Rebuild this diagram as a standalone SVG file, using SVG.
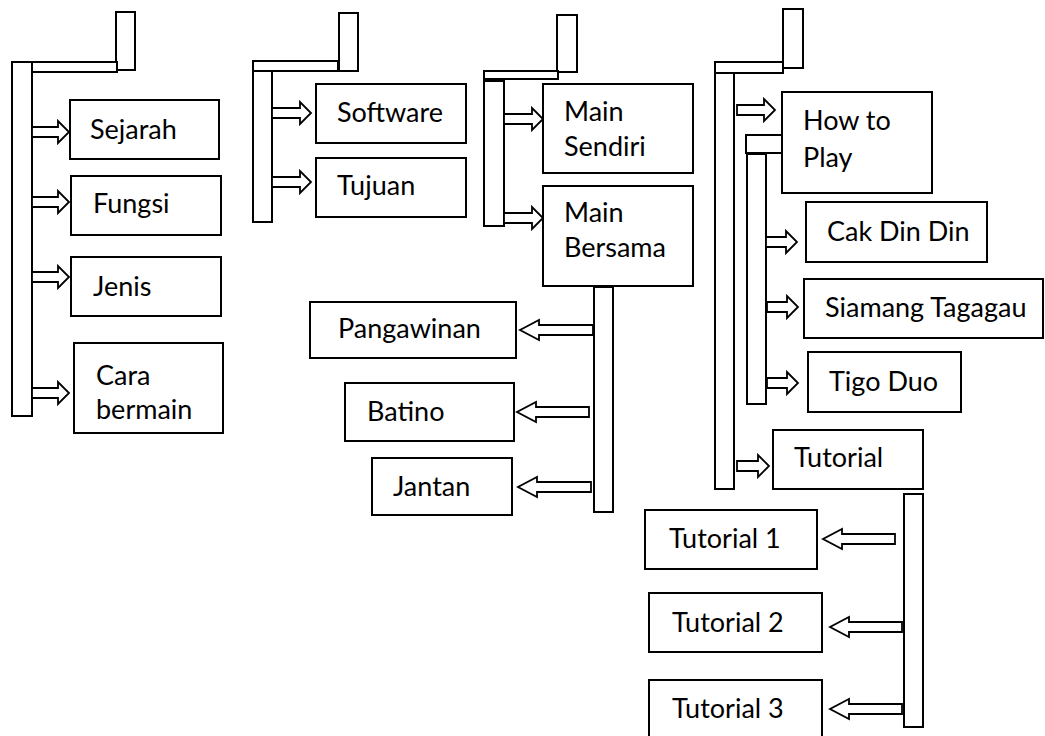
<svg xmlns="http://www.w3.org/2000/svg" width="1045" height="736" viewBox="0 0 1045 736">
<style>
rect, path { fill: #fff; stroke: #000; stroke-width: 2; }
.bar { stroke-width: 2; }
.arrow { stroke-width: 1.8; stroke-linejoin: miter; }
text { font-family: Lato, "Liberation Sans", sans-serif; font-size: 27px; fill: #000; }
</style>
<rect x="0" y="0" width="1045" height="736" style="fill:#fff;stroke:none"/>
<g id="connectors">
  <!-- column 1 -->
  <rect class="bar" x="116" y="12" width="19" height="58"/>
  <rect class="bar" x="32" y="62" width="85" height="10"/>
  <rect class="bar" x="12" y="62" width="20" height="354"/>
  <path class="arrow" d="M32 127 H58 V121 L69 132 L58 143 V137 H32 Z"/>
  <path class="arrow" d="M32 197 H58 V191 L69 202 L58 213 V207 H32 Z"/>
  <path class="arrow" d="M32 272 H58 V266 L69 277 L58 288 V282 H32 Z"/>
  <path class="arrow" d="M32 388 H58 V382 L69 393 L58 404 V398 H32 Z"/>
  <!-- column 2 -->
  <rect class="bar" x="339" y="13" width="19" height="58"/>
  <rect class="bar" x="253" y="61" width="85" height="10"/>
  <rect class="bar" x="253" y="71" width="19" height="151"/>
  <path class="arrow" d="M272 108 H300 V102 L311 113 L300 124 V118 H272 Z"/>
  <path class="arrow" d="M272 177 H300 V171 L311 182 L300 193 V187 H272 Z"/>
  <!-- column 3 -->
  <rect class="bar" x="557" y="15" width="20" height="57"/>
  <rect class="bar" x="484" y="71" width="74" height="8"/>
  <rect class="bar" x="484" y="81" width="20" height="145"/>
  <path class="arrow" d="M504 114 H532 V108 L543 119 L532 130 V124 H504 Z"/>
  <path class="arrow" d="M504 213 H532 V207 L543 218 L532 229 V223 H504 Z"/>
  <rect class="bar" x="594" y="287" width="19" height="225"/>
  <path class="arrow" d="M593 325 H539 V320 L520 330 L539 340 V335 H593 Z"/>
  <path class="arrow" d="M589 407 H536 V402 L517 412 L536 422 V417 H589 Z"/>
  <path class="arrow" d="M591 482 H537 V477 L518 487 L537 497 V492 H591 Z"/>
  <!-- column 4 -->
  <rect class="bar" x="783" y="9" width="20" height="59"/>
  <rect class="bar" x="715" y="62" width="68" height="11"/>
  <rect class="bar" x="715" y="73" width="19" height="416"/>
  <path class="arrow" d="M737 105 H764 V99 L775 110 L764 121 V115 H737 Z"/>
  <rect class="bar" x="746" y="135" width="36" height="18"/>
  <rect class="bar" x="747" y="154" width="19" height="250"/>
  <path class="arrow" d="M766 237 H786 V231 L797 242 L786 253 V247 H766 Z"/>
  <path class="arrow" d="M767 302 H787 V296 L798 307 L787 318 V312 H767 Z"/>
  <path class="arrow" d="M767 378 H787 V372 L798 383 L787 394 V388 H767 Z"/>
  <path class="arrow" d="M737 461 H758 V455 L769 466 L758 477 V471 H737 Z"/>
  <rect class="bar" x="904" y="494" width="19" height="233"/>
  <path class="arrow" d="M895 534 H842 V529 L823 539 L842 549 V544 H895 Z"/>
  <path class="arrow" d="M902 622 H849 V617 L830 627 L849 637 V632 H902 Z"/>
  <path class="arrow" d="M902 704 H849 V699 L830 709 L849 719 V714 H902 Z"/>
</g>
<g id="node-sejarah"><rect x="70" y="100" width="149" height="59"/><text x="90" y="139">Sejarah</text></g>
<g id="node-fungsi"><rect x="71" y="176" width="150" height="59"/><text x="93" y="213">Fungsi</text></g>
<g id="node-jenis"><rect x="71" y="257" width="150" height="59"/><text x="93" y="296">Jenis</text></g>
<g id="node-cara-bermain"><rect x="74" y="343" width="149" height="90"/><text x="96" y="385">Cara</text><text x="96" y="419">bermain</text></g>
<g id="node-software"><rect x="316" y="84" width="150" height="59"/><text x="337" y="122">Software</text></g>
<g id="node-tujuan"><rect x="316" y="158" width="150" height="59"/><text x="337" y="195">Tujuan</text></g>
<g id="node-main-sendiri"><rect x="543" y="84" width="150" height="89"/><text x="564" y="121">Main</text><text x="564" y="156">Sendiri</text></g>
<g id="node-main-bersama"><rect x="543" y="186" width="150" height="100"/><text x="564" y="222">Main</text><text x="564" y="257">Bersama</text></g>
<g id="node-pangawinan"><rect x="310" y="302" width="206" height="56"/><text x="338" y="338">Pangawinan</text></g>
<g id="node-batino"><rect x="345" y="383" width="169" height="58"/><text x="367" y="421">Batino</text></g>
<g id="node-jantan"><rect x="372" y="458" width="140" height="57"/><text x="393" y="496">Jantan</text></g>
<g id="node-how-to-play"><rect x="782" y="92" width="150" height="101"/><text x="803" y="130">How to</text><text x="803" y="167">Play</text></g>
<g id="node-cak-din-din"><rect x="806" y="202" width="181" height="60"/><text x="827" y="241">Cak Din Din</text></g>
<g id="node-siamang-tagagau"><rect x="804" y="279" width="239" height="59"/><text x="825" y="317">Siamang Tagagau</text></g>
<g id="node-tigo-duo"><rect x="808" y="352" width="153" height="60"/><text x="829" y="391">Tigo Duo</text></g>
<g id="node-tutorial"><rect x="773" y="430" width="150" height="59"/><text x="794" y="467">Tutorial</text></g>
<g id="node-tutorial-1"><rect x="645" y="510" width="172" height="59"/><text x="669" y="548">Tutorial 1</text></g>
<g id="node-tutorial-2"><rect x="649" y="593" width="173" height="59"/><text x="672" y="632">Tutorial 2</text></g>
<g id="node-tutorial-3"><rect x="649" y="680" width="173" height="62"/><text x="672" y="718">Tutorial 3</text></g>
</svg>
